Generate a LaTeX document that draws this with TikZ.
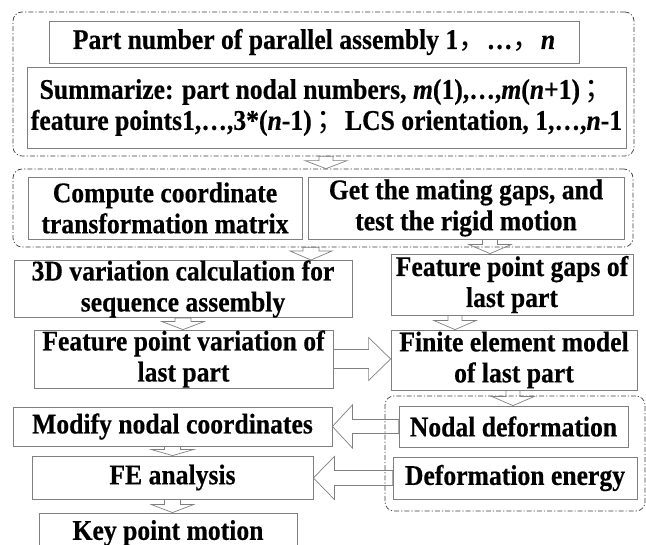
\documentclass[tikz,border=0pt]{standalone}
\usepackage{fontspec}
\setmainfont[FakeStretch=0.9,BoldFeatures={FakeBold=0.4},BoldItalicFeatures={FakeBold=0.4}]{Liberation Serif}
\newfontfamily\cjk{Noto Sans CJK SC}
\usetikzlibrary{calc}
\definecolor{boxgray}{HTML}{7F7F7F}
\definecolor{dashgray}{HTML}{3F3F3F}
\tikzset{
  box/.style={draw=boxgray, line width=0.8pt, align=center, inner sep=0pt,
    font=\fontsize{28.5pt}{31pt}\selectfont\bfseries, text=black},
  dbox/.style={draw=dashgray, line width=0.7pt, rounded corners=9pt,
    dash pattern=on 5pt off 2pt on 1.2pt off 2pt, inner sep=0pt},
  blk/.style={draw=boxgray, line width=0.7pt, line join=miter}
}
\newcommand{\fw}[1]{{\cjk\mdseries #1}}
% vertical hollow arrow: #1 start, #2 tip, #3 shaft half width, #4 head length
\newcommand{\vblk}[4]{\draw[blk] let \p1=#1, \p2=#2 in
  (\x1-#3,\y1) -- (\x1+#3,\y1) -- (\x1+#3,\y2+#4) -- (\x1+21pt,\y2+#4)
  -- (\x1,\y2) -- (\x1-21pt,\y2+#4) -- (\x1-#3,\y2+#4) -- cycle;}
% horizontal hollow arrow: #1 start, #2 tip, #3 shaft half width, #4 signed head length
\newcommand{\hblk}[4]{\draw[blk] let \p1=#1, \p2=#2 in
  (\x1,\y1-#3) -- (\x1,\y1+#3) -- (\x2+#4,\y1+#3) -- (\x2+#4,\y1+21.5pt)
  -- (\x2,\y1) -- (\x2+#4,\y1-21.5pt) -- (\x2+#4,\y1-#3) -- cycle;}
\begin{document}
\begin{tikzpicture}[x=1pt,y=-1pt]
\useasboundingbox (0,0) rectangle (646,545);

% dashed groups
\node[dbox, minimum width=621pt, minimum height=144pt] (dash1) at (323.5,84) {};
\node[dbox, minimum width=620pt, minimum height=78pt] (dash2) at (323,208) {};
\node[dbox, minimum width=260pt, minimum height=115pt] (dash3) at (515,453.5) {};

% boxes
\node[box, minimum width=530pt, minimum height=42pt] (part) at (314,42)
  {Part number of parallel assembly 1\fw{，}…\fw{，}\textit{n}};
\node[box, minimum width=599pt, minimum height=81pt] (summ) at (326.5,107.5)
  {Summarize: part nodal numbers, \textit{m}(1),…,\textit{m}(\textit{n}+1)\,\fw{；}\\
   feature points1,…,3*(\textit{n}-1)\,\fw{；}LCS orientation, 1,…,\textit{n}-1};
\node[box, minimum width=274pt, minimum height=62pt] (compute) at (165,208)
  {Compute coordinate\\transformation matrix};
\node[box, minimum width=316pt, minimum height=62pt] (get) at (466,208)
  {Get the mating gaps, and\\test the rigid motion};
\node[box, minimum width=338pt, minimum height=56pt] (v3d) at (183,289)
  {3D variation calculation for\\sequence assembly};
\node[box, minimum width=242pt, minimum height=61pt] (gaps) at (512,284.5)
  {Feature point gaps of\\last part};
\node[box, minimum width=299pt, minimum height=58pt] (fpv) at (183.5,359)
  {Feature point variation of\\last part};
\node[box, minimum width=246pt, minimum height=60pt] (fem) at (514,360)
  {Finite element model\\of last part};
\node[box, minimum width=319pt, minimum height=39pt] (modify) at (172.5,426.5)
  {Modify nodal coordinates};
\node[box, minimum width=229pt, minimum height=41pt] (nodal) at (513.5,426.5)
  {Nodal deformation};
\node[box, minimum width=281pt, minimum height=43pt] (fe) at (172.5,477.5)
  {FE analysis};
\node[box, minimum width=244pt, minimum height=42pt] (energy) at (515,478)
  {Deformation energy};
\node[box, minimum width=258pt, minimum height=40pt] (key) at (168,533)
  {Key point motion};

% hollow arrows
\vblk{($(dash1.south)+(2.5,0)$)}{(dash2.north)}{7pt}{8pt}
\vblk{($(dash2.south)+(-12,0)$)}{(v3d.north)}{8pt}{9pt}
\vblk{($(get.south)+(24,0)$)}{(gaps.north)}{7.5pt}{9pt}
\vblk{(v3d.south)}{(fpv.north)}{8pt}{8pt}
\vblk{($(gaps.south)+(-57,0)$)}{(fem.north)}{7pt}{9pt}
\vblk{($(fem.south)+(-1,0)$)}{(nodal.north)}{7pt}{9pt}
\vblk{(modify.south)}{(fe.north)}{8pt}{6pt}
\vblk{(fe.south)}{(key.north)}{8pt}{8pt}
\hblk{(fpv.east)}{(fem.west)}{9.5pt}{-22pt}
\hblk{(nodal.west)}{(modify.east)}{7pt}{20pt}
\hblk{(energy.west)}{(fe.east)}{7.5pt}{21pt}
\end{tikzpicture}
\end{document}
